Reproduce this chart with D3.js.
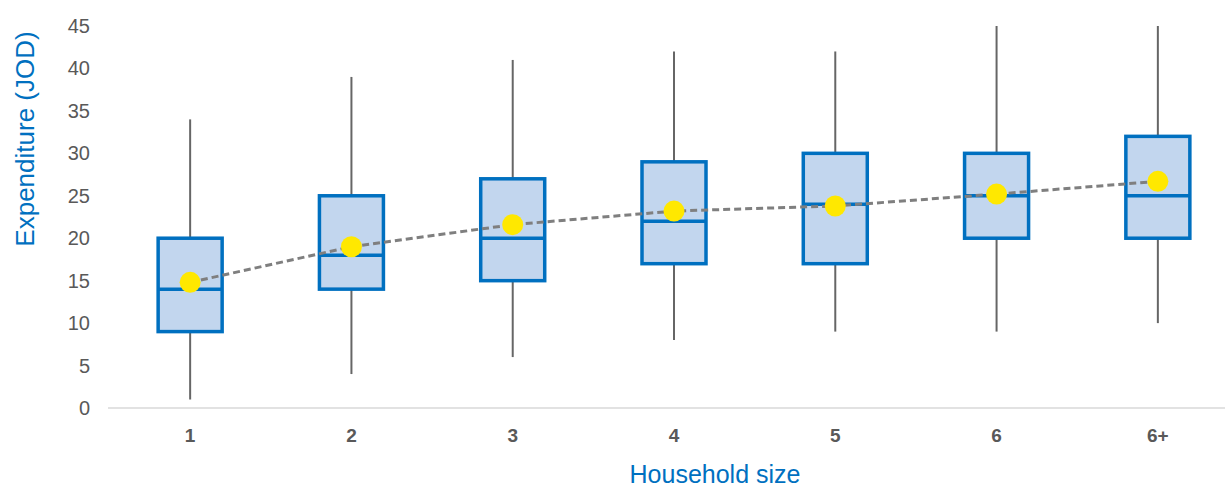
<!DOCTYPE html>
<html><head><meta charset="utf-8">
<script src="https://cdn.jsdelivr.net/npm/d3@7"></script>
<style>body{margin:0;background:#fff}svg{display:block;font-family:"Liberation Sans",Arial,sans-serif}</style>
</head><body><svg id="c" width="1225" height="489"></svg>
<script>
const categories = ["1","2","3","4","5","6","6+"];
const mins    = [1, 4, 6, 8, 9, 9, 10];
const q1s     = [9, 14, 15, 17, 17, 20, 20];
const medians = [14, 18, 20, 22, 24, 25, 25];
const q3s     = [20, 25, 27, 29, 30, 30, 32];
const maxs    = [34, 39, 41, 42, 42, 45, 45];
const means   = [14.8, 19.0, 21.6, 23.2, 23.8, 25.2, 26.7];
const yTicks  = [0,5,10,15,20,25,30,35,40,45];

const svg = d3.select("#c");
const x = d3.scaleBand().domain(categories).range([109.5, 1238.5]).padding(0);
const y = d3.scaleLinear().domain([0,45]).range([408, 26]);
const cx = c => x(c) + x.bandwidth()/2;
const bw = 64;

// axis line
svg.append("line").attr("x1",108).attr("x2",1225).attr("y1",y(0)).attr("y2",y(0))
  .attr("stroke","#d9d9d9").attr("stroke-width",1.5);

// y tick labels
svg.append("g").selectAll("text").data(yTicks).join("text")
  .attr("x",90).attr("y",d=>y(d)).attr("dy","0.35em").attr("text-anchor","end")
  .attr("font-size",20).attr("fill","#595959").text(d=>d);

// x labels
svg.append("g").selectAll("text").data(categories).join("text")
  .attr("x",d=>cx(d)).attr("y",442).attr("text-anchor","middle")
  .attr("font-size",19).attr("font-weight","bold").attr("fill","#595959").text(d=>d);

const data = categories.map((c,i)=>({c,min:mins[i],q1:q1s[i],med:medians[i],q3:q3s[i],max:maxs[i],mean:means[i]}));

const g = svg.append("g");
// whiskers
g.selectAll(".wh").data(data).join("line").attr("x1",d=>cx(d.c)).attr("x2",d=>cx(d.c))
  .attr("y1",d=>y(d.max)).attr("y2",d=>y(d.q3)).attr("stroke","#666").attr("stroke-width",2);
g.selectAll(".wl").data(data).join("line").attr("x1",d=>cx(d.c)).attr("x2",d=>cx(d.c))
  .attr("y1",d=>y(d.q1)).attr("y2",d=>y(d.min)).attr("stroke","#666").attr("stroke-width",2);
// boxes
g.selectAll("rect").data(data).join("rect")
  .attr("x",d=>cx(d.c)-bw/2).attr("width",bw)
  .attr("y",d=>y(d.q3)).attr("height",d=>y(d.q1)-y(d.q3))
  .attr("fill","#C2D6EE").attr("stroke","#0070C0").attr("stroke-width",3.5);
// medians
g.selectAll(".med").data(data).join("line")
  .attr("x1",d=>cx(d.c)-bw/2).attr("x2",d=>cx(d.c)+bw/2)
  .attr("y1",d=>y(d.med)).attr("y2",d=>y(d.med)).attr("stroke","#0070C0").attr("stroke-width",3.5);

// mean line
const line = d3.line().x(d=>cx(d.c)).y(d=>y(d.mean));
svg.append("path").datum(data).attr("d",line).attr("fill","none")
  .attr("stroke","#7f7f7f").attr("stroke-width",3).attr("stroke-dasharray","7,4");
svg.append("g").selectAll("circle").data(data).join("circle")
  .attr("cx",d=>cx(d.c)).attr("cy",d=>y(d.mean)).attr("r",10.5).attr("fill","#FFE800");

// titles
svg.append("text").attr("transform","translate(34,139) rotate(-90)").attr("text-anchor","middle")
  .attr("font-size",26).attr("fill","#0070C0").text("Expenditure (JOD)");
svg.append("text").attr("x",715).attr("y",483).attr("text-anchor","middle")
  .attr("font-size",25).attr("fill","#0070C0").text("Household size");
</script></body></html>
